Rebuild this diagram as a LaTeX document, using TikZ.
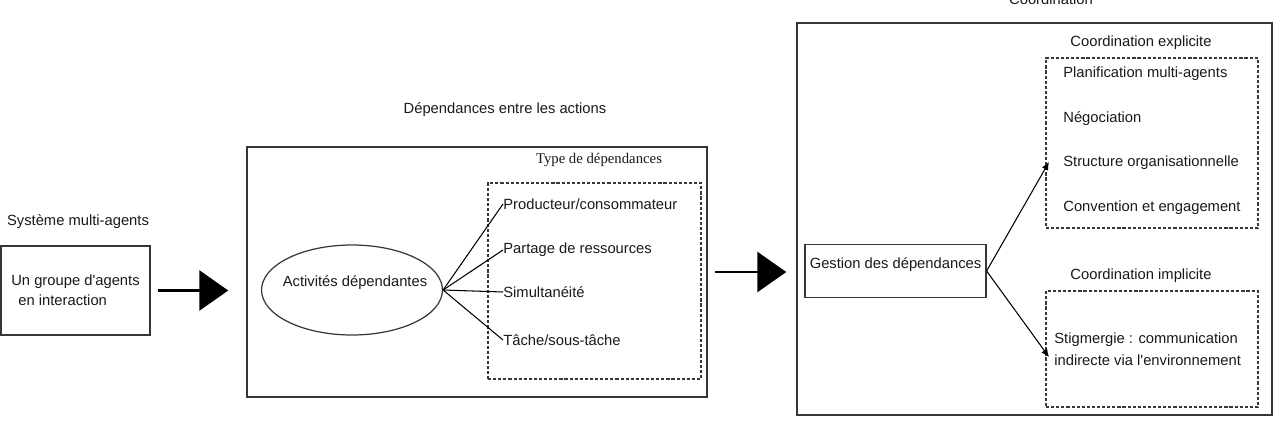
\documentclass[tikz,border=0pt]{standalone}
\usepackage{fontspec}
\setmainfont{Liberation Sans}
\newfontfamily\seriffont{Liberation Serif}
\usepackage{xcolor}
\usepackage{tikz}
\usetikzlibrary{arrows.meta,positioning,shapes.geometric}
\definecolor{trait}{RGB}{55,55,55}
\definecolor{texte}{RGB}{25,25,25}

\begin{document}
\begin{tikzpicture}[x=0.02cm,y=-0.02cm,
font=\fontsize{8.4}{11.4}\selectfont,text=texte,
cadre/.style={draw=trait,line width=0.9pt,minimum width=#1},
boite/.style={draw=trait,line width=0.7pt,inner sep=1pt,align=left},
pointille/.style={draw=trait,line width=0.65pt,dash pattern=on 1.8pt off 1.1pt},
titre/.style={inner sep=0pt},
item/.style={inner sep=0pt,anchor=west},
grosfleche/.style={-{Triangle[length=0.58cm,width=0.8cm]},line width=1.7pt,black},
fleche/.style={-{Latex[length=1.6mm,width=1.4mm]},line width=0.6pt,black},
branche/.style={line width=0.6pt,black}
]
\useasboundingbox (0,0) rectangle (1284,423);

% systeme multi-agents
\node[titre] (sma) at (78,222) {Système multi-agents};
\node[boite,minimum width=2.98cm,minimum height=1.78cm] (grp) at (75.5,290.5)
  {Un groupe d\textquotesingle agents\\\hspace*{4pt}en interaction};

% dependances entre les actions
\node[titre] (dep) at (505,110) {Dépendances entre les actions};
\node[cadre=9.2cm,minimum height=5cm] (mid) at (477,272) {};
\node[titre,font=\seriffont\fontsize{8.4}{10}\selectfont] (type) at (599,160) {Type de dépendances};
\node[pointille,minimum width=4.26cm,minimum height=3.92cm] (types) at (594.5,281) {};
\node[ellipse,draw=trait,line width=0.7pt,minimum width=3.62cm,minimum height=1.8cm,inner sep=0pt] (act) at (352,290) {};
\node[titre] (actlbl) at (355,283) {Activités dépendantes};
\node[item] (prod) at (503,204) {Producteur/consommateur};
\node[item] (part) at (503,250) {Partage de ressources};
\node[item] (simu) at (503,292) {Simultanéité};
\node[item] (tach) at (503,340) {Tâche/sous-tâche};
\foreach \t in {prod,part,simu,tach}
  \draw[branche] (act.east) -- (\t.west);

% coordination
\node[titre] (coord) at (1051,-1) {Coordination};
\node[cadre=9.5cm,minimum height=7.84cm] (droite) at (1034.5,219) {};
\node[draw=trait,line width=0.7pt,inner xsep=0pt,inner ysep=0pt,minimum width=3.62cm,
  text height=0.47cm,text depth=0.59cm] (gest) at (895.5,271) {Gestion des dépendances};

\node[titre] (explt) at (1141,43) {Coordination explicite};
\node[pointille,minimum width=4.24cm,minimum height=3.4cm] (expl) at (1152,143) {};
\node[item] (plan) at (1063,74) {Planification multi-agents};
\node[item] (nego) at (1063,119) {Négociation};
\node[item] (struc) at (1063,163) {Structure organisationnelle};
\node[item] (conv) at (1063,208) {Convention et engagement};

\node[titre] (implt) at (1141,276) {Coordination implicite};
\node[pointille,minimum width=4.24cm,minimum height=2.32cm] (impl) at (1152,349) {};
\node[item,align=left,font=\fontsize{8.4}{12.4}\selectfont] (stig) at (1054,349)
  {Stigmergie : communication\\indirecte via l\textquotesingle environnement};

\coordinate (versexpl) at (1049,162);
\coordinate (versimpl) at (1049,357);
\draw[fleche] (gest.east) -- (versexpl);
\draw[fleche] (gest.east) -- (versimpl);

% grosses fleches
\draw[grosfleche,shorten <=0.14cm,shorten >=0.36cm] (grp.east) -- (mid.west |- grp.east);
\draw[grosfleche,shorten <=0.14cm,shorten >=0.2cm] (mid.east) -- (droite.west |- mid.east);
\end{tikzpicture}
\end{document}
